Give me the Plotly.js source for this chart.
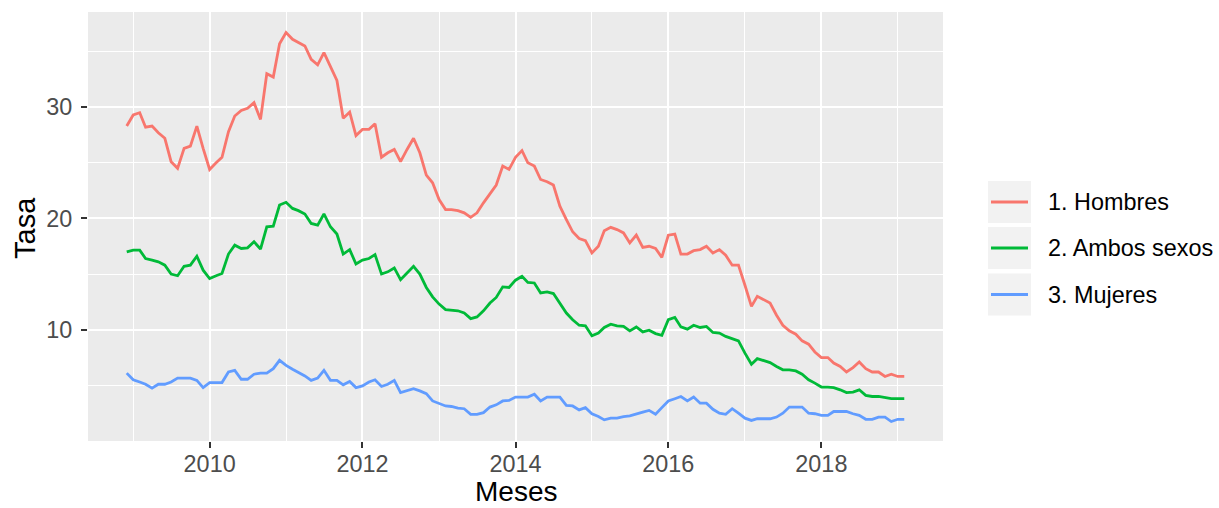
<!DOCTYPE html>
<html>
<head>
<meta charset="utf-8">
<script src="https://cdn.plot.ly/plotly-3.0.1.min.js"></script>
<style>html,body{margin:0;padding:0;background:#fff;}#chart{width:1219px;height:508px;}</style>
</head>
<body>
<div id="chart"></div>
<script>
// Monthly series, December 2008 to February 2019
const startYear = 2008;
const startMonth = 12;

const seriesNames = ['1. Hombres', '2. Ambos sexos', '3. Mujeres'];

const hombres = [
  28.3, 29.3, 29.5, 28.2, 28.3, 27.7, 27.2, 25.1, 24.5, 26.3,
  26.5, 28.3, 26.3, 24.4, 25.0, 25.5, 27.8, 29.2, 29.7, 29.9,
  30.4, 28.9, 33.0, 32.7, 35.7, 36.7, 36.1, 35.8, 35.5, 34.3,
  33.8, 34.9, 33.7, 32.4, 29.0, 29.55, 27.45, 28.0, 28.0, 28.5,
  25.5, 25.9, 26.2, 25.1, 26.2, 27.2, 25.9, 23.9, 23.2, 21.7,
  20.8, 20.8, 20.7, 20.5, 20.1, 20.5, 21.4, 22.2, 23.0, 24.7,
  24.4, 25.5, 26.1, 25.0, 24.7, 23.5, 23.3, 23.0, 21.1, 19.9,
  18.8, 18.2, 18.0, 16.9, 17.5, 18.9, 19.2, 19.0, 18.7, 17.8,
  18.5, 17.4, 17.5, 17.3, 16.5, 18.5, 18.6, 16.8, 16.8, 17.1,
  17.2, 17.5, 16.9, 17.2, 16.7, 15.8, 15.8, 14.0, 12.1, 13.0,
  12.7, 12.4, 11.3, 10.4, 9.9, 9.6, 9.0, 8.7, 8.0, 7.5,
  7.5, 7.0, 6.7, 6.2, 6.6, 7.1, 6.5, 6.2, 6.2, 5.8,
  6.0, 5.8, 5.8
];

const ambos = [
  17.0, 17.15, 17.15, 16.4, 16.26, 16.1, 15.8, 15.0, 14.85, 15.7,
  15.8, 16.6, 15.35, 14.6, 14.85, 15.05, 16.8, 17.6, 17.3, 17.36,
  17.9, 17.25, 19.25, 19.3, 21.2, 21.45, 20.9, 20.7, 20.4, 19.55,
  19.4, 20.4, 19.25, 18.6, 16.8, 17.2, 15.9, 16.25, 16.4, 16.75,
  15.0, 15.2, 15.55, 14.5, 15.1, 15.7, 15.0, 13.8, 12.95, 12.3,
  11.8, 11.76, 11.7, 11.5, 11.0, 11.15, 11.7, 12.4, 12.9, 13.85,
  13.8, 14.45, 14.8, 14.25, 14.2, 13.3, 13.4, 13.25, 12.4, 11.5,
  10.9, 10.4, 10.35, 9.45, 9.7, 10.2, 10.5, 10.35, 10.3, 9.9,
  10.25, 9.8, 9.95, 9.65, 9.5, 10.9, 11.1, 10.25, 10.05, 10.4,
  10.2, 10.3, 9.75, 9.7, 9.4, 9.2, 9.0, 7.9, 6.9, 7.4,
  7.2, 7.05, 6.7, 6.4, 6.4, 6.3, 6.0, 5.5, 5.2, 4.85,
  4.85, 4.8, 4.6, 4.35, 4.4, 4.6, 4.1, 4.0, 4.0, 3.9,
  3.8, 3.8, 3.8
];

const mujeres = [
  6.1, 5.5, 5.3, 5.1, 4.75, 5.1, 5.1, 5.3, 5.65, 5.65,
  5.65, 5.45, 4.8, 5.25, 5.25, 5.25, 6.2, 6.35, 5.55, 5.55,
  6.0, 6.1, 6.1, 6.5, 7.25, 6.8, 6.45, 6.2, 5.85, 5.45,
  5.65, 6.35, 5.45, 5.45, 5.05, 5.35, 4.8, 4.95, 5.3, 5.5,
  4.9, 5.1, 5.45, 4.35, 4.55, 4.7, 4.5, 4.25, 3.6, 3.35,
  3.15, 3.1, 2.95, 2.9, 2.4, 2.4, 2.55, 3.05, 3.25, 3.6,
  3.65, 3.95, 3.95, 3.95, 4.2, 3.6, 3.95, 3.95, 3.95, 3.2,
  3.15, 2.8, 3.0, 2.45, 2.2, 1.9, 2.05, 2.05, 2.2, 2.25,
  2.45, 2.6, 2.75, 2.4, 3.0, 3.6, 3.8, 4.0, 3.6, 3.95,
  3.4, 3.4, 2.85, 2.5, 2.4, 2.9, 2.5, 2.05, 1.85, 2.0,
  2.0, 2.0, 2.15, 2.5, 3.05, 3.05, 3.05, 2.5, 2.45, 2.3,
  2.3, 2.65, 2.65, 2.65, 2.45, 2.3, 1.95, 1.95, 2.15, 2.15,
  1.75, 1.95, 1.95
];

const xTickVals = ['2010-01-01', '2012-01-01', '2014-01-01', '2016-01-01', '2018-01-01'];
const xTickText = ['2010', '2012', '2014', '2016', '2018'];
const xMinorVals = ['2009-01-01', '2011-01-01', '2013-01-01', '2015-01-01', '2017-01-01', '2019-01-01'];
const yTickVals = [10, 20, 30];
const yMinorVals = [5, 15, 25, 35];
const xTitle = 'Meses';
const yTitle = 'Tasa';

const months = hombres.map((_, i) => {
  const m = startMonth - 1 + i;
  const y = startYear + Math.floor(m / 12);
  const mm = (m % 12) + 1;
  return y + '-' + String(mm).padStart(2, '0') + '-01';
});

const colors = ['#F8766D', '#00BA38', '#619CFF'];
const allSeries = [hombres, ambos, mujeres];

const FONT = '"Liberation Sans", Arial, Helvetica, sans-serif';

const traces = allSeries.map((vals, k) => ({
  type: 'scatter',
  mode: 'lines',
  x: months,
  y: vals,
  name: seriesNames[k],
  line: {color: colors[k], width: 2.8},
  showlegend: false,
  hoverinfo: 'x+y+name'
}));

// plot panel geometry (pixels) for the ggplot-style legend and titles
const L = 88, R = 943, T = 12, B = 441;
const px = v => (v - L) / (R - L);
const py = v => (B - v) / (B - T);

const shapes = [];
const annotations = [];
const keyCenters = [202, 248, 294.5];
seriesNames.forEach((nm, k) => {
  const c = keyCenters[k];
  shapes.push({type: 'rect', xref: 'paper', yref: 'paper', layer: 'above',
    x0: px(988), x1: px(1031), y0: py(c + 21), y1: py(c - 21),
    fillcolor: '#F2F2F2', line: {width: 0}});
  shapes.push({type: 'line', xref: 'paper', yref: 'paper', layer: 'above',
    x0: px(991), x1: px(1028), y0: py(c), y1: py(c),
    line: {color: colors[k], width: 2.8}});
  annotations.push({xref: 'paper', yref: 'paper', x: px(1046), y: py(c),
    xanchor: 'left', yanchor: 'middle', showarrow: false, text: nm,
    font: {family: FONT, size: 23.4, color: '#000000'}});
});

// axis titles
annotations.push({xref: 'paper', yref: 'paper', x: 0.5, y: py(508),
  xanchor: 'center', yanchor: 'bottom', showarrow: false, borderpad: 0,
  text: xTitle, font: {family: FONT, size: 28, color: '#000000'}});
annotations.push({xref: 'paper', yref: 'paper', x: px(25), y: py(228),
  xanchor: 'center', yanchor: 'middle', showarrow: false, borderpad: 0, textangle: -90,
  text: yTitle, font: {family: FONT, size: 29, color: '#000000'}});

const layout = {
  width: 1219, height: 508,
  margin: {l: L, r: 1219 - R, t: T, b: 508 - B, pad: 0},
  paper_bgcolor: '#FFFFFF',
  plot_bgcolor: '#EBEBEB',
  showlegend: false,
  font: {family: FONT},
  xaxis: {
    type: 'date',
    range: ['2008-05-30', '2019-08-05'],
    tickmode: 'array', tickvals: xTickVals, ticktext: xTickText,
    ticks: 'outside', ticklen: 6, tickwidth: 2, tickcolor: '#333333',
    tickfont: {family: FONT, size: 23.4, color: '#4D4D4D'},
    ticklabelstandoff: -4,
    showgrid: true, gridcolor: '#FFFFFF', gridwidth: 2,
    minor: {tickmode: 'array', tickvals: xMinorVals, showgrid: true, gridcolor: '#FFFFFF', gridwidth: 1, ticks: ''},
    zeroline: false, showline: false
  },
  yaxis: {
    range: [0.0, 38.55],
    tickmode: 'array', tickvals: yTickVals, ticktext: yTickVals.map(String),
    ticks: 'outside', ticklen: 6, tickwidth: 2, tickcolor: '#333333',
    tickfont: {family: FONT, size: 23.4, color: '#4D4D4D'},
    ticklabelstandoff: 4,
    showgrid: true, gridcolor: '#FFFFFF', gridwidth: 2,
    minor: {tickmode: 'array', tickvals: yMinorVals, showgrid: true, gridcolor: '#FFFFFF', gridwidth: 1, ticks: ''},
    zeroline: false, showline: false
  },
  shapes: shapes,
  annotations: annotations
};

Plotly.newPlot('chart', traces, layout, {displayModeBar: false, staticPlot: true});
</script>
</body>
</html>
